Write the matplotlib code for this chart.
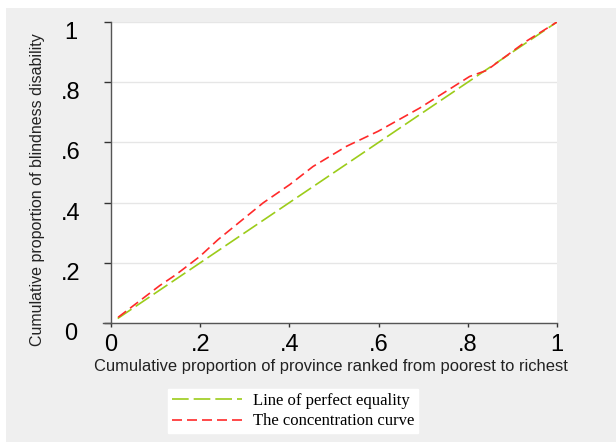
import matplotlib
matplotlib.use("Agg")
import matplotlib.pyplot as plt
from matplotlib.patches import Rectangle
from matplotlib.lines import Line2D

# ---- data ----
equality_x = [0.015, 1.0]
equality_y = [0.015, 1.0]

conc_x = [0.016, 0.109, 0.146, 0.199, 0.240, 0.341, 0.401, 0.453, 0.528,
          0.599, 0.692, 0.804, 0.842, 0.931, 1.0]
conc_y = [0.019, 0.124, 0.161, 0.221, 0.277, 0.399, 0.460, 0.520, 0.587,
          0.637, 0.714, 0.819, 0.839, 0.936, 1.0]

tick_vals = [0, 0.2, 0.4, 0.6, 0.8, 1.0]
tick_labels = ["0", ".2", ".4", ".6", ".8", "1"]

series_names = ["Line of perfect equality", "The concentration curve"]
x_label = "Cumulative proportion of province ranked from poorest to richest"
y_label = "Cumulative proportion of blindness disability"

# ---- figure ----
W, H = 616, 442
fig = plt.figure(figsize=(W / 100, H / 100), dpi=100, facecolor="white")
bg = "#efefef"
fig.patches.append(Rectangle((6 / W, 0), 1 - 6 / W, 1 - 8 / H,
                             transform=fig.transFigure, facecolor=bg,
                             edgecolor="none", zorder=-10))

left, right, top, bottom = 111, 557, 22, 323
ax = fig.add_axes([left / W, 1 - bottom / H, (right - left) / W, (bottom - top) / H])
ax.set_facecolor("white")
ax.set_xlim(0, 1)
ax.set_ylim(0, 1)

for s in ["top", "right"]:
    ax.spines[s].set_visible(False)
for s in ["left", "bottom"]:
    ax.spines[s].set_color("#555555")
    ax.spines[s].set_linewidth(1.0)

# bottom axis line extends slightly left of the y axis (Stata style)
fig.add_artist(Line2D([103 / W, left / W], [1 - bottom / H, 1 - bottom / H],
                      transform=fig.transFigure, color="#555555", linewidth=1.0))

ax.yaxis.grid(True, color="#e6e6e6", linewidth=1.0)
ax.set_axisbelow(True)

green = "#9ccc1a"
red = "#ff2a2a"
l1, = ax.plot(equality_x, equality_y, color=green, linewidth=1.2,
              dashes=(10, 3), label=series_names[0])
l2, = ax.plot(conc_x, conc_y, color=red, linewidth=1.2,
              dashes=(6, 3), label=series_names[1])

tick_font = dict(family="Liberation Sans", size=17)
ax.set_xticks(tick_vals)
ax.set_xticklabels(tick_labels, **tick_font)
ax.set_yticks(tick_vals)
ax.set_yticklabels(tick_labels, **tick_font)
ax.tick_params(axis="x", length=3, width=1, color="#333333", pad=5)
ax.tick_params(axis="y", length=5, width=1, color="#333333", pad=24)
for t in ax.get_yticklabels():
    t.set_horizontalalignment("center")
    t.set_verticalalignment("top")

fig.text(331 / W, 1 - 367 / H, x_label, ha="center", va="center",
         family="Liberation Sans", size=11.9, color="#222222")
fig.text(38 / W, 1 - 190 / H, y_label, ha="center", va="center",
         rotation=90, family="Liberation Sans", size=11.5, color="#222222")

leg = fig.legend(handles=[l1, l2], loc="upper left",
                 bbox_to_anchor=(160 / W, 1 - 381 / H),
                 prop=dict(family="Liberation Serif", size=12),
                 frameon=True, fancybox=False, facecolor="white",
                 edgecolor="white", handlelength=4.2, handletextpad=0.7,
                 labelspacing=0.28, borderpad=0.2, framealpha=1)

fig.savefig("out.png", dpi=100, facecolor="white")
